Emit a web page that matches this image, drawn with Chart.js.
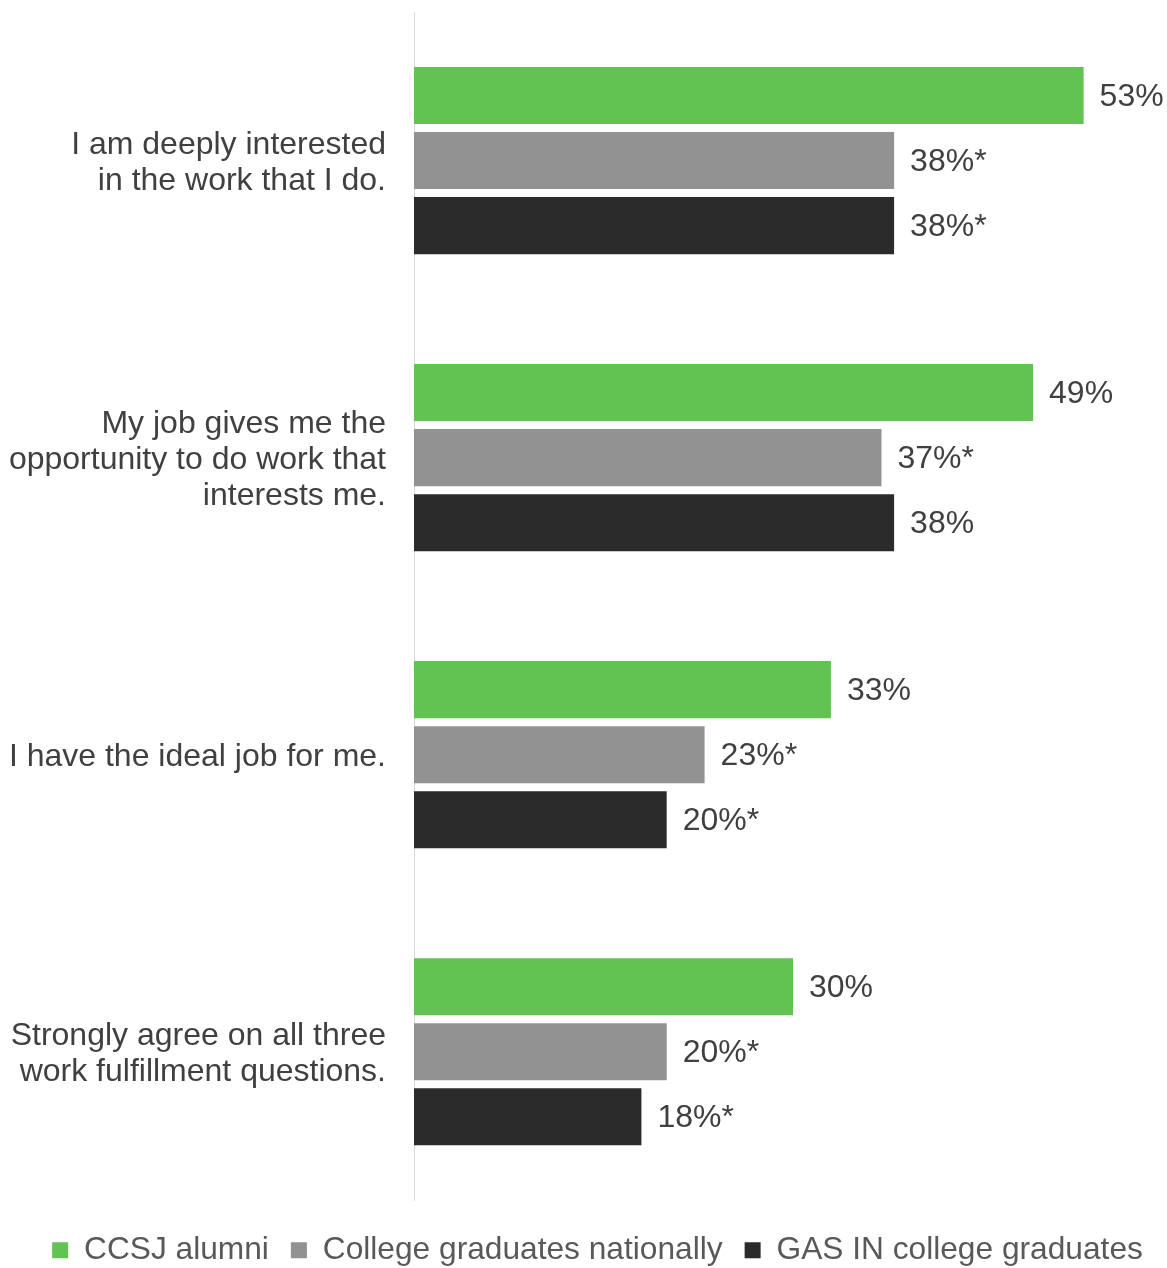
<!DOCTYPE html>
<html>
<head>
<meta charset="utf-8">
<script src="https://cdn.jsdelivr.net/npm/chart.js@4/dist/chart.umd.min.js"></script>
<style>
  html, body { margin: 0; padding: 0; background: #ffffff; overflow: hidden; }
  #wrap { width: 1167px; height: 1268px; position: relative; overflow: hidden; }
</style>
</head>
<body>
<div id="wrap"><canvas id="c" width="1167" height="1268"></canvas></div>
<script>
const categories = [
  ["I am deeply interested", "in the work that I do."],
  ["My job gives me the", "opportunity to do work that", "interests me."],
  ["I have the ideal job for me."],
  ["Strongly agree on all three", "work fulfillment questions."]
];
const seriesNames = ["CCSJ alumni", "College graduates nationally", "GAS IN college graduates"];
const ccsjValues = [53, 49, 33, 30];
const nationalValues = [38, 37, 23, 20];
const gasInValues = [38, 38, 20, 18];
const ccsjLabels = ["53%", "49%", "33%", "30%"];
const nationalLabels = ["38%*", "37%*", "23%*", "20%*"];
const gasInLabels = ["38%*", "38%", "20%*", "18%*"];

const FONT = "'Liberation Sans', Arial, sans-serif";

const valueLabelPlugin = {
  id: 'valueLabels',
  afterDatasetsDraw(chart) {
    const ctx = chart.ctx;
    ctx.save();
    ctx.font = "32px " + FONT;
    ctx.fillStyle = "#404040";
    ctx.textAlign = "left";
    ctx.textBaseline = "middle";
    chart.data.datasets.forEach((ds, di) => {
      const meta = chart.getDatasetMeta(di);
      meta.data.forEach((bar, i) => {
        ctx.fillText(ds.valueLabels[i], bar.x + 16, bar.y + 1.5);
      });
    });
    ctx.restore();
  }
};

const legendShiftPlugin = {
  id: 'legendShift',
  afterLayout(chart) {
    if (chart.legend) {
      chart.legend.left += 14;
      chart.legend.right += 14;
    }
  }
};

new Chart(document.getElementById('c'), {
  type: 'bar',
  data: {
    labels: categories,
    datasets: [
      { label: seriesNames[0], data: ccsjValues, valueLabels: ccsjLabels, backgroundColor: '#62C353' },
      { label: seriesNames[1], data: nationalValues, valueLabels: nationalLabels, backgroundColor: '#929292' },
      { label: seriesNames[2], data: gasInValues, valueLabels: gasInLabels, backgroundColor: '#2B2B2B' }
    ]
  },
  options: {
    indexAxis: 'y',
    responsive: false,
    animation: false,
    devicePixelRatio: 1,
    categoryPercentage: 0.657,
    barPercentage: 0.877,
    layout: { padding: { top: 12, right: 0, bottom: -8, left: 0 } },
    scales: {
      x: {
        display: false,
        min: 0,
        max: 59.6
      },
      y: {
        afterFit(scale) {
          scale.width = 414;
          scale.paddingTop = 0;
          scale.paddingBottom = 0;
        },
        grid: { display: false, drawTicks: false },
        border: { display: true, color: '#d9d9d9', width: 1 },
        ticks: {
          padding: 28,
          labelOffset: 2.5,
          color: '#404040',
          font: { family: FONT, size: 32, lineHeight: 1.125 }
        }
      }
    },
    plugins: {
      legend: {
        position: 'bottom',
        title: { display: true, text: '', font: { size: 1, lineHeight: 1 }, padding: { top: 0, bottom: 11 } },
        labels: {
          boxWidth: 16,
          boxHeight: 16,
          padding: 22,
          color: '#595959',
          font: { family: FONT, size: 31.7 }
        }
      },
      tooltip: { enabled: false }
    }
  },
  plugins: [valueLabelPlugin, legendShiftPlugin]
});
</script>
</body>
</html>
